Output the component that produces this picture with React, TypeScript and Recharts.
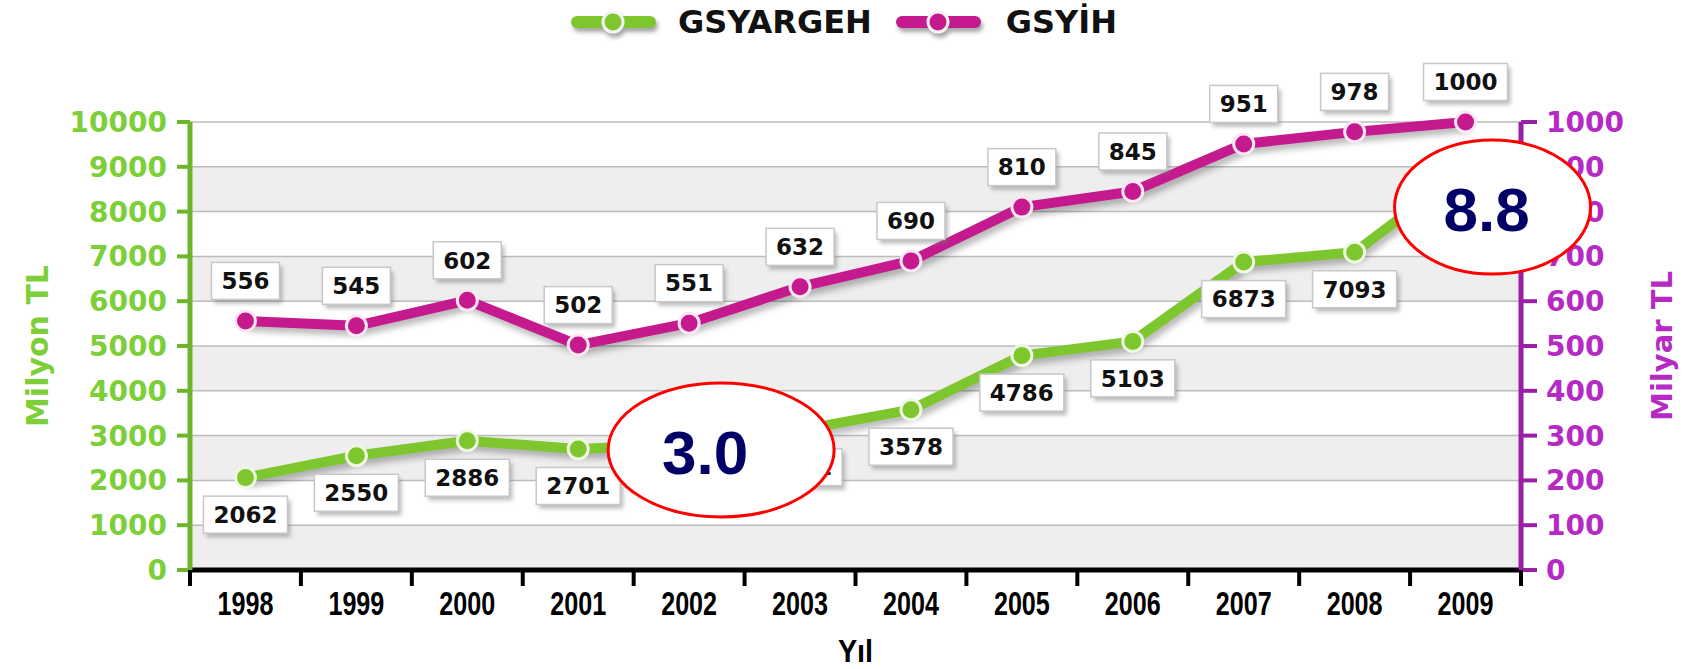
import React from 'react';
import { LineChart, Line, XAxis, YAxis, CartesianGrid, LabelList, Legend, ReferenceDot } from 'recharts';

const years = ['1998', '1999', '2000', '2001', '2002', '2003', '2004', '2005', '2006', '2007', '2008', '2009'];
const gsyargeh = [2062, 2550, 2886, 2701, 2815, 3121, 3578, 4786, 5103, 6873, 7093, 8950];
const gsyih = [556, 545, 602, 502, 551, 632, 690, 810, 845, 951, 978, 1000];
const leftTicks = [0, 1000, 2000, 3000, 4000, 5000, 6000, 7000, 8000, 9000, 10000];
const rightTicks = [0, 100, 200, 300, 400, 500, 600, 700, 800, 900, 1000];
const seriesNames = ['GSYARGEH', 'GSYİH'];
const seriesColors = ['#7DC62E', '#C41A8E'];
const axisTitles = ['Milyon TL', 'Milyar TL', 'Yıl'];
const calloutYears = ['2002', '2009'];
const calloutValues = [2680, 8100];
const calloutTexts = ['3.0', '8.8'];

const data = years.map((y, i) => ({ year: y, gsyargeh: gsyargeh[i], gsyih: gsyih[i] }));

const BOLD = { fontFamily: 'DejaVu Sans', fontWeight: 'bold' as const };

const ValueBox = (props: any, dy: number) => {
  const vx = props.x ?? props.viewBox?.x;
  const vy = props.y ?? props.viewBox?.y;
  if (vx == null || vy == null) return null;
  const text = String(props.value);
  const w = 20 + 16 * text.length;
  const h = 37;
  const cx = vx;
  const cy = vy + dy;
  return (
    <g>
      <rect x={cx - w / 2 + 3} y={cy - h / 2 + 4} width={w} height={h} fill="#777" opacity={0.5} style={{ filter: 'blur(2px)' }} />
      <rect x={cx - w / 2} y={cy - h / 2} width={w} height={h} fill="#fff" stroke="#c8c8c8" strokeWidth={1.5} />
      <text x={cx} y={cy} dy="0.36em" textAnchor="middle" {...BOLD} fontSize={23} fill="#111">{text}</text>
    </g>
  );
};

const XTick = (props: any) => {
  const { x, y, payload, index, visibleTicksCount } = props;
  const half = payload?.offset || 55.5;
  return (
    <g>
      <line x1={x - half} x2={x - half} y1={y} y2={y + 16} stroke="#000" strokeWidth={4} />
      {index === visibleTicksCount - 1 && (
        <line x1={x + half} x2={x + half} y1={y} y2={y + 16} stroke="#000" strokeWidth={4} />
      )}
      <text
        x={0}
        y={0}
        transform={`translate(${x} ${y + 45}) scale(0.74 1)`}
        textAnchor="middle"
        fontFamily="'Liberation Sans', Arial"
        fontWeight="bold"
        fontSize={34}
        fill="#000"
      >
        {payload.value}
      </text>
    </g>
  );
};

const LegendIcon = ({ color }: { color: string }) => (
  <svg width={85} height={30} style={{ overflow: 'visible' }}>
    <g style={{ filter: 'drop-shadow(2px 4px 2px rgba(0,0,0,0.35))' }}>
      <line x1={6} x2={79} y1={15} y2={15} stroke={color} strokeWidth={12} strokeLinecap="round" />
      <circle cx={42} cy={15} r={10} fill={color} stroke="#f4f4f4" strokeWidth={3} />
    </g>
  </svg>
);

const LegendContent = () => (
  <div style={{ display: 'flex', alignItems: 'center', justifyContent: 'center', height: 44, paddingRight: 18, boxSizing: 'border-box' }}>
    {seriesNames.map((n, i) => (
      <div key={n} style={{ display: 'flex', alignItems: 'center', marginLeft: i === 0 ? 0 : 24 }}>
        <LegendIcon color={seriesColors[i]} />
        <span style={{ ...BOLD, fontSize: 32, color: '#111', marginLeft: i === 0 ? 22 : 25, lineHeight: '44px' }}>{n}</span>
      </div>
    ))}
  </div>
);

const Callout = (props: any, text: string, dx: number, rx: number, tdx: number) => {
  const { cx, cy } = props;
  if (cx == null || cy == null) return null;
  return (
    <g>
      <ellipse cx={cx + dx} cy={cy} rx={rx} ry={67} fill="#fff" stroke="#FF0000" strokeWidth={3} />
      <text x={cx + dx + tdx} y={cy + 24} textAnchor="middle" fontFamily="'Liberation Sans', Arial" fontWeight="bold" fontSize={62} fill="#000066">
        {text}
      </text>
    </g>
  );
};

const calloutStyle = [
  { dx: 32, rx: 113, tdx: -16 },
  { dx: 27, rx: 98, tdx: -6 },
];

export default function App() {
  return (
    <div style={{ position: 'absolute', left: 0, top: 0, width: 1706, height: 669, background: '#fff' }}>
      <style>{`.recharts-line-curve { filter: drop-shadow(3px 5px 3px rgba(0,0,0,0.28)); }`}</style>
      <LineChart width={1706} height={669} data={data} margin={{ top: 78, right: 0, bottom: 0, left: 2 }}>
        <Legend verticalAlign="top" content={LegendContent as any} wrapperStyle={{ top: 0, left: 0, width: 1706, height: 44 }} />
        <CartesianGrid
          yAxisId="left"
          vertical={false}
          stroke="#bcbcbc"
          strokeWidth={1.5}
          horizontalFill={['#ffffff', '#eeeeee']}
          fillOpacity={1}
        />
        <XAxis
          dataKey="year"
          scale="band"
          height={99}
          interval={0}
          tickSize={0}
          tickMargin={0}
          tickLine={false}
          axisLine={{ stroke: '#000', strokeWidth: 5 }}
          tick={XTick}
          label={(p: any) => {
            const vb = p.viewBox || {};
            return (
              <text
                x={0}
                y={0}
                transform={`translate(${vb.x + vb.width / 2} ${vb.y + 92}) scale(0.9 1)`}
                textAnchor="middle"
                fontFamily="'Liberation Sans', Arial"
                fontWeight="bold"
                fontSize={32}
                fill="#000"
              >
                {axisTitles[2]}
              </text>
            );
          }}
        />
        <YAxis
          yAxisId="left"
          orientation="left"
          width={188}
          domain={[0, 10000]}
          ticks={leftTicks}
          interval={0}
          axisLine={{ stroke: '#6DB52B', strokeWidth: 5 }}
          tickLine={{ stroke: '#6DB52B', strokeWidth: 4 }}
          tickSize={13}
          tickMargin={10}
          tick={{ fill: '#7DCF3A', fontSize: 28, ...BOLD }}
          label={(p: any) => {
            const vb = p.viewBox || {};
            const cx = vb.x + 35;
            const cy = vb.y + vb.height / 2;
            return (
              <text x={cx} y={cy} transform={`rotate(-90 ${cx} ${cy})`} textAnchor="middle" dy="0.36em" {...BOLD} fontSize={30} fill="#7DCF3A">
                {axisTitles[0]}
              </text>
            );
          }}
        />
        <YAxis
          yAxisId="right"
          orientation="right"
          width={185}
          domain={[0, 1000]}
          ticks={rightTicks}
          interval={0}
          axisLine={{ stroke: '#9A1EA6', strokeWidth: 5 }}
          tickLine={{ stroke: '#9A1EA6', strokeWidth: 4 }}
          tickSize={16}
          tickMargin={9}
          tick={{ fill: '#B62AC4', fontSize: 28, ...BOLD }}
          label={(p: any) => {
            const vb = p.viewBox || {};
            const cx = vb.x + 141;
            const cy = vb.y + vb.height / 2;
            return (
              <text x={cx} y={cy} transform={`rotate(-90 ${cx} ${cy})`} textAnchor="middle" dy="0.36em" {...BOLD} fontSize={29} fill="#B62AC4">
                {axisTitles[1]}
              </text>
            );
          }}
        />
        <Line
          yAxisId="left"
          dataKey="gsyargeh"
          name={seriesNames[0]}
          stroke={seriesColors[0]}
          strokeWidth={10}
          strokeLinejoin="round"
          dot={{ r: 10, fill: seriesColors[0], stroke: '#EEF8E2', strokeWidth: 3 }}
          activeDot={false}
          isAnimationActive={false}
        >
          <LabelList dataKey="gsyargeh" content={(p: any) => ValueBox(p, 37)} />
        </Line>
        <Line
          yAxisId="right"
          dataKey="gsyih"
          name={seriesNames[1]}
          stroke={seriesColors[1]}
          strokeWidth={10}
          strokeLinejoin="round"
          dot={{ r: 10, fill: seriesColors[1], stroke: '#FBE6F3', strokeWidth: 3 }}
          activeDot={false}
          isAnimationActive={false}
        >
          <LabelList dataKey="gsyih" content={(p: any) => ValueBox(p, -40)} />
        </Line>
        {calloutYears.map((yr, i) => (
          <ReferenceDot
            key={yr}
            yAxisId="left"
            x={yr}
            y={calloutValues[i]}
            r={1}
            ifOverflow="visible"
            {...({ zIndex: 5000 } as any)}
            shape={(p: any) => Callout(p, calloutTexts[i], calloutStyle[i].dx, calloutStyle[i].rx, calloutStyle[i].tdx)}
          />
        ))}
      </LineChart>
    </div>
  );
}
